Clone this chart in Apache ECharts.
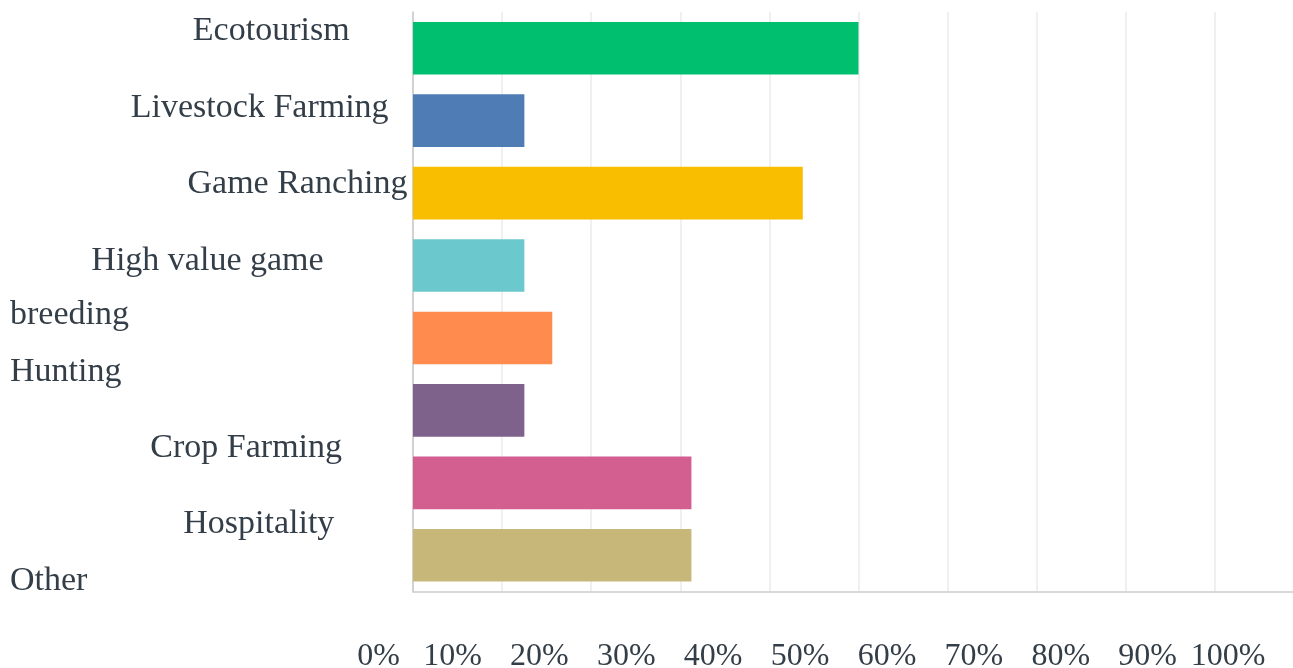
<!DOCTYPE html>
<html>
<head>
<meta charset="utf-8">
<title>Land use</title>
<script src="https://cdn.jsdelivr.net/npm/echarts@6/dist/echarts.min.js"></script>
<style>
  html, body { margin: 0; padding: 0; background: #ffffff; }
  #chart { width: 1293px; height: 668px; }
</style>
</head>
<body>
<div id="chart"></div>
<script>
// Categories and the share of respondents (%) choosing each one
const categories = [
  'Ecotourism',
  'Livestock Farming',
  'Game Ranching',
  'High value game breeding',
  'Hunting',
  'Crop Farming',
  'Hospitality',
  'Other'
];
const shares = [50, 12.5, 43.75, 12.5, 15.63, 12.5, 31.25, 31.25];

// Bar palette, one colour per category
const palette = ['#00bf6f', '#507cb6', '#f9be00', '#6bc8cd', '#ff8b4f', '#7f628b', '#d25f90', '#c7b879'];

const TEXT = '#333e48';
const FONT = "'Liberation Serif', 'Times New Roman', serif";

// The plot is cut off just short of 100% on the right
const VISIBLE_MAX = 98.77;

// How each category label is set out beside its bar:
// rows of text (align + horizontal shift) and blank space above / below.
const labelPlacement = [
  { rows: [['Ecotourism', 'center', 59.7]], above: 0, below: 35 },
  { rows: [['Livestock Farming', 'center', 48.2]], above: 0, below: 25.6 },
  { rows: [['Game Ranching', 'center', 86]], above: 0, below: 19 },
  { rows: [['High value game', 'center', -4], ['breeding', 'left', 0]], above: 45.4, below: 0, rowHeight: 54 },
  { rows: [['Hunting', 'left', 0]], above: 67.4, below: 0 },
  { rows: [['Crop Farming', 'center', 34.7]], above: 75.2, below: 0 },
  { rows: [['Hospitality', 'center', 47.3]], above: 81.8, below: 0 },
  { rows: [['Other', 'left', 0]], above: 51.2, below: 0 }
];

const LABEL_BOX = 403;
const rich = {};
const labelText = {};
labelPlacement.forEach((p, i) => {
  const parts = [];
  const spacer = (key, h) => {
    rich[key] = { width: LABEL_BOX, height: h, lineHeight: h, fontSize: 8 };
    return '{' + key + '| }';
  };
  if (p.above > 0) parts.push(spacer('a' + i, p.above));
  p.rows.forEach((r, j) => {
    const key = 't' + i + '_' + j;
    const shift = r[2];
    rich[key] = {
      align: r[1],
      fontSize: 34,
      fontFamily: FONT,
      color: TEXT,
      lineHeight: p.rowHeight || 36,
      padding: shift >= 0 ? [0, 0, 0, 2 * shift] : [0, -2 * shift, 0, 0]
    };
    parts.push('{' + key + '|' + r[0] + '}');
  });
  if (p.below > 0) parts.push(spacer('b' + i, p.below));
  labelText[categories[i]] = parts.join('\n');
});

const chart = echarts.init(document.getElementById('chart'), null, { renderer: 'canvas' });

chart.setOption({
  animation: false,
  backgroundColor: '#ffffff',
  color: palette,
  grid: [
    { left: 413, top: 12, bottom: 76.5, right: 0, containLabel: false },
    { left: 365.6, width: 869, top: 619, height: 1, containLabel: false }
  ],
  xAxis: [
    {
      type: 'value',
      gridIndex: 0,
      min: 0,
      max: VISIBLE_MAX,
      interval: 10,
      axisLine: { show: true, lineStyle: { color: '#cccccc', width: 1.5 } },
      axisTick: { show: false },
      axisLabel: { show: false },
      splitLine: { show: true, showMaxLine: false, lineStyle: { color: '#ebebeb', width: 1.5 } }
    },
    {
      type: 'value',
      gridIndex: 1,
      min: 0,
      max: 100,
      interval: 10,
      axisLine: { show: false },
      axisTick: { show: false },
      splitLine: { show: false },
      axisLabel: {
        margin: 21,
        fontSize: 32,
        fontFamily: FONT,
        color: TEXT,
        formatter: v => {
          if (v === 0) return '{lo|' + v + '%}';
          if (v === 100) return '{hi|' + v + '%}';
          return '{v|' + v + '%}';
        },
        rich: {
          v: { fontSize: 32, fontFamily: FONT, color: TEXT, lineHeight: 32 },
          lo: { fontSize: 32, fontFamily: FONT, color: TEXT, lineHeight: 32, padding: [0, 0, 0, 26] },
          hi: { fontSize: 32, fontFamily: FONT, color: TEXT, lineHeight: 32, padding: [0, 13, 0, 0] }
        }
      }
    }
  ],
  yAxis: [
    {
      type: 'category',
      gridIndex: 0,
      inverse: true,
      data: categories,
      axisLine: { show: true, lineStyle: { color: '#c8c8c8', width: 1.5 } },
      axisTick: { show: false },
      splitLine: { show: false },
      axisLabel: {
        interval: 0,
        margin: 0,
        fontSize: 34,
        fontFamily: FONT,
        color: TEXT,
        formatter: v => labelText[v],
        rich: rich
      }
    },
    {
      type: 'category',
      gridIndex: 1,
      show: false,
      data: ['']
    }
  ],
  series: [
    {
      type: 'bar',
      xAxisIndex: 0,
      yAxisIndex: 0,
      colorBy: 'data',
      barCategoryGap: '27.4%',
      data: shares,
      label: { show: false }
    }
  ]
});
</script>
</body>
</html>
